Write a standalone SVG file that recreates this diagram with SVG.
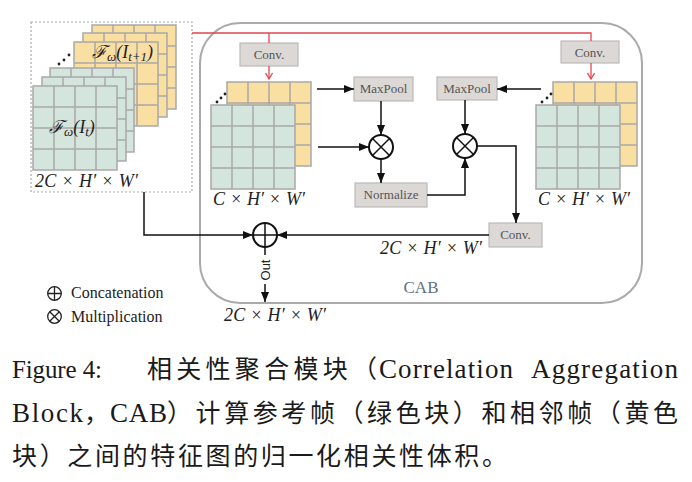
<svg xmlns="http://www.w3.org/2000/svg" width="692" height="482" viewBox="0 0 692 482">
<style>
.y{fill:#fadfa2;stroke:#a9a9a9;stroke-width:1.5}
.g{fill:#d3e5dc;stroke:#a9a9a9;stroke-width:1.5}
.gl{fill:none;stroke:#a9a9a9;stroke-width:1.5}
.box{fill:#dcd8d6;stroke:#bdb9b7;stroke-width:1.2}
.bt{font-family:"Liberation Serif",serif;font-size:13px;fill:#555;text-anchor:middle}
.m{font-family:"Liberation Serif","DejaVu Serif",serif;font-style:italic;font-size:18px;fill:#222}
.ln{fill:none;stroke:#111;stroke-width:1.5}
.ar{fill:none;stroke:#111;stroke-width:1.5;marker-end:url(#ah)}
.red{fill:none;stroke:#e0474c;stroke-width:1.3}
.op{fill:#fff;stroke:#111;stroke-width:2}
.dot{fill:#222}
.cap{font-family:"Liberation Serif","Noto Sans CJK SC",serif;font-size:25px;fill:#1a1a1a}
.la{font-size:27px}
.lg{font-family:"Liberation Serif","DejaVu Sans",serif;font-size:16px;fill:#222}
</style>
<defs>
<g id="gy"><rect width="84" height="84" class="y"/><path d="M21 0V84M42 0V84M63 0V84M0 21H84M0 42H84M0 63H84" class="gl"/></g>
<g id="gg"><rect width="84" height="84" class="g"/><path d="M21 0V84M42 0V84M63 0V84M0 21H84M0 42H84M0 63H84" class="gl"/></g>
<marker id="ah" viewBox="0 0 10 8" refX="10" refY="4" markerWidth="10" markerHeight="8" orient="auto" markerUnits="userSpaceOnUse"><path d="M0 0L10 4L0 8z" fill="#111"/></marker>
<marker id="rh" viewBox="0 0 8 8" refX="7" refY="4" markerWidth="8" markerHeight="8" orient="auto" markerUnits="userSpaceOnUse"><path d="M1 0.5L7 4L1 7.5" fill="none" stroke="#e0474c" stroke-width="1.3"/></marker>
</defs>

<g id="cab">
<rect x="200" y="23" width="442" height="280" rx="40" fill="none" stroke="#aaa" stroke-width="2"/>
<text x="421" y="293" font-family="Liberation Serif,serif" font-size="17" fill="#5f6f88" text-anchor="middle">CAB</text>
</g>

<g id="input-features">
<rect x="31" y="22" width="161" height="170" fill="none" stroke="#aaa" stroke-width="1.2" stroke-dasharray="2 2"/>
<use href="#gy" x="92" y="25"/>
<use href="#gy" x="83" y="33"/>
<use href="#gy" x="74" y="42"/>
<use href="#gg" x="50" y="68"/>
<use href="#gg" x="42" y="77"/>
<use href="#gg" x="33" y="86"/>
<circle class="dot" cx="59" cy="64" r="1.4"/><circle class="dot" cx="64" cy="60" r="1.4"/><circle class="dot" cx="69" cy="55" r="1.4"/>
<text class="m" x="92" y="58" font-size="21">ℱ<tspan font-size="13" dy="3">ω</tspan><tspan dy="-3">(</tspan>I<tspan font-size="13" dy="3">t+1</tspan><tspan dy="-3">)</tspan></text>
<text class="m" x="49" y="133" font-size="21">ℱ<tspan font-size="13" dy="3">ω</tspan><tspan dy="-3">(</tspan>I<tspan font-size="13" dy="3">t</tspan><tspan dy="-3">)</tspan></text>
<text class="m" x="35" y="187" textLength="103" lengthAdjust="spacing">2C × H′ × W′</text>
</g>

<g id="left-stack">
<use href="#gy" x="227" y="82"/>
<use href="#gg" x="211" y="105"/>
<circle class="dot" cx="217" cy="102" r="1.4"/><circle class="dot" cx="221" cy="98" r="1.4"/><circle class="dot" cx="225" cy="94" r="1.4"/>
<text class="m" x="213" y="205" textLength="92" lengthAdjust="spacing">C × H′ × W′</text>
</g>

<g id="right-stack">
<use href="#gy" x="553" y="82"/>
<use href="#gg" x="536" y="105"/>
<circle class="dot" cx="542" cy="102" r="1.4"/><circle class="dot" cx="547" cy="98" r="1.4"/><circle class="dot" cx="551" cy="94" r="1.4"/>
<text class="m" x="538" y="205" textLength="92" lengthAdjust="spacing">C × H′ × W′</text>
</g>

<g id="conv-left"><rect class="box" x="240" y="43" width="58" height="23"/><text class="bt" x="269" y="59">Conv.</text></g>
<g id="conv-right"><rect class="box" x="561" y="41" width="58" height="22"/><text class="bt" x="590" y="57">Conv.</text></g>
<g id="maxpool-left"><rect class="box" x="354" y="77" width="59" height="24"/><text class="bt" x="383.5" y="93">MaxPool</text></g>
<g id="maxpool-right"><rect class="box" x="437" y="77" width="60" height="23"/><text class="bt" x="467" y="93">MaxPool</text></g>
<g id="normalize"><rect class="box" x="355" y="183" width="72" height="24"/><text class="bt" x="391" y="199">Normalize</text></g>
<g id="conv-bottom"><rect class="box" x="489" y="223" width="53" height="24"/><text class="bt" x="515.5" y="239">Conv.</text></g>

<g id="mult-left"><circle class="op" cx="381" cy="147" r="12"/><path class="ln" d="M372.5 138.5L389.5 155.5M389.5 138.5L372.5 155.5" stroke-width="2"/></g>
<g id="mult-right"><circle class="op" cx="465" cy="146" r="12"/><path class="ln" d="M456.5 137.5L473.5 154.5M473.5 137.5L456.5 154.5" stroke-width="2"/></g>
<g id="concat"><circle class="op" cx="265" cy="235" r="12"/><path class="ln" d="M265 223V247M253 235H277" stroke-width="2"/></g>

<g id="connectors">
<path class="red" d="M192 33H591V41"/>
<path class="red" d="M269 33V43"/>
<path class="red" d="M269 66V79" marker-end="url(#rh)"/>
<path class="red" d="M591 63V79" marker-end="url(#rh)"/>
<path class="ar" d="M317 89H354"/>
<path class="ar" d="M318 147H369"/>
<path class="ar" d="M381 101V135"/>
<path class="ar" d="M381 159V183"/>
<path class="ar" d="M427 195H465V158"/>
<path class="ar" d="M541 89H497"/>
<path class="ar" d="M465 100V134"/>
<path class="ar" d="M477 146H516V223"/>
<path class="ar" d="M489 235H277"/>
<path class="ar" d="M144 192V235H253"/>
<path class="ar" d="M265 247V302"/>
<rect x="259" y="255" width="12" height="29" fill="#fff"/>
<text x="265" y="270" transform="rotate(-90 265 270)" font-family="Liberation Sans,sans-serif" font-size="13" fill="#222" text-anchor="middle" dominant-baseline="central">Out</text>
<text class="m" x="380" y="254" textLength="102" lengthAdjust="spacing">2C × H′ × W′</text>
<text class="m" x="224" y="321" textLength="102" lengthAdjust="spacing">2C × H′ × W′</text>
</g>

<g id="legend">
<text class="lg" x="71" y="298">Concatenation</text>
<text class="lg" x="71" y="322">Multiplication</text>
<circle cx="54.5" cy="293.5" r="6.8" fill="none" stroke="#222" stroke-width="1.3"/>
<path d="M54.5 286.7V300.3M47.7 293.5H61.3" stroke="#222" stroke-width="1.3"/>
<circle cx="54.5" cy="316.5" r="6.8" fill="none" stroke="#222" stroke-width="1.3"/>
<path d="M49.7 311.7L59.3 321.3M59.3 311.7L49.7 321.3" stroke="#222" stroke-width="1.3"/>
</g>

<g id="caption">
<text class="cap" y="378"><tspan x="12" textLength="90" lengthAdjust="spacing">Figure 4:</tspan><tspan x="147" textLength="230" lengthAdjust="spacing">相关性聚合模块（</tspan><tspan class="la" x="379" textLength="134" lengthAdjust="spacing">Correlation</tspan><tspan class="la" x="531" textLength="147" lengthAdjust="spacing">Aggregation</tspan></text>
<text class="cap" y="422"><tspan class="la" x="12" textLength="71" lengthAdjust="spacing">Block</tspan><tspan x="84">，</tspan><tspan class="la" x="110" textLength="57" lengthAdjust="spacing">CAB</tspan><tspan x="167" textLength="511" lengthAdjust="spacing">）计算参考帧（绿色块）和相邻帧（黄色</tspan></text>
<text class="cap" x="12" y="465" textLength="495" lengthAdjust="spacing">块）之间的特征图的归一化相关性体积。</text>
</g>
</svg>
